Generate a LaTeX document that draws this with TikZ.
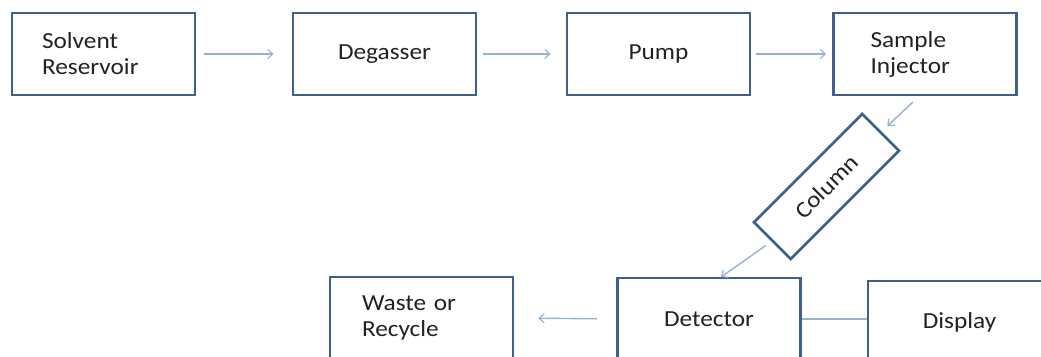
\documentclass[tikz,border=0pt]{standalone}
\usepackage{fontspec}
\setmainfont[FakeStretch=1.1]{Carlito}
\usetikzlibrary{arrows.meta,calc}
\definecolor{boxline}{HTML}{3F5F8C}
\definecolor{arrline}{HTML}{98B2D2}
\definecolor{txt}{HTML}{222222}
\tikzset{
  box/.style={draw=boxline, line width=2.7pt, fill=white, minimum width=183pt,
    minimum height=82pt, text=txt, font=\fontsize{23}{26}\selectfont, inner sep=0pt},
  lbox/.style={box, align=left, text width=#1},
  conn/.style={draw=arrline, line width=1.4pt},
  arr/.style={conn, -{Straight Barb[length=5pt,width=9pt,line width=1.2pt]}},
}
\begin{document}
\begin{tikzpicture}[x=1pt,y=-1pt]
\useasboundingbox (0,0) rectangle (1041,356);
\clip (0,0) rectangle (1041,356);
\fill[white] (0,0) rectangle (1041,356);
% top row
\node[lbox=123pt, inner xsep=30pt] (sr) at (103.5,54) {Solvent\\Reservoir};
\node[box] (deg) at (384.5,54) {Degasser};
\node[box] (pump) at (658.5,54) {Pump};
\node[lbox=109pt, inner xsep=37pt] (inj) at (925,54) {Sample\\Injector};
% column
\node[box, minimum width=153pt, minimum height=52pt, rotate=45] (col) at (826.5,186.5) {Column};
% bottom row
\node[lbox=119pt, inner xsep=32pt] (waste) at (421.5,318) {Waste or\\Recycle};
\node[box] (det) at (709,319) {Detector};
\node[box] (disp) at (959.5,322) {Display};
% connector end points
\coordinate (cin) at (913,102);
\coordinate (dtop) at (721,277);
% connectors
\draw[arr, shorten <=8pt, shorten >=18pt] (sr.east) -- (deg.west);
\draw[arr, shorten <=6pt, shorten >=15pt] (deg.east) -- (pump.west);
\draw[arr, shorten <=5pt, shorten >=6pt] (pump.east) -- (inj.west);
\draw[arr, shorten >=8pt] (cin) -- (col.east);
\draw[arr, shorten <=7pt] (col.west) -- (dtop);
\draw[arr, shorten <=19pt, shorten >=24pt] (det.west) -- (waste.east);
\draw[conn] (det.east) -- (det.east -| disp.west);
\end{tikzpicture}
\end{document}
